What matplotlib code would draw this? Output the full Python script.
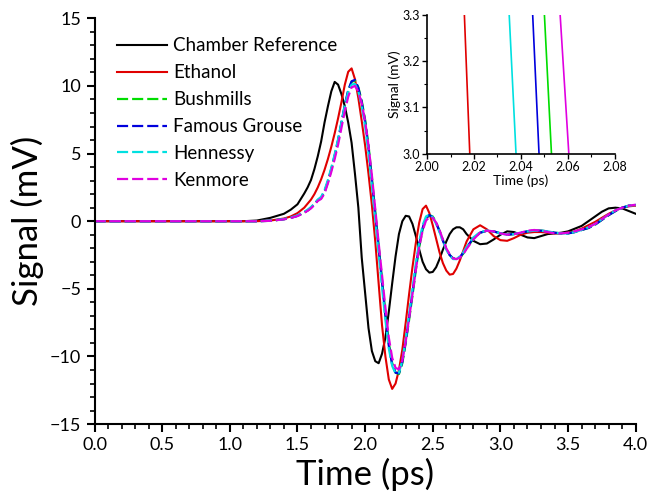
import matplotlib
matplotlib.use("Agg")
import matplotlib.pyplot as plt
import numpy as np

plt.rcParams['font.family'] = ['Lato', 'DejaVu Sans']

# shared time grid (ps)
t = np.round(np.concatenate([np.arange(0.0, 1.45, 0.1),
                             np.arange(1.45, 1.56, 0.05),
                             np.arange(1.575, 2.76, 0.025),
                             np.arange(2.8, 4.01, 0.05)]), 3)

# signals (mV)
chamber = [0.0, 0.0, 0.0, 0.0, 0.0, 0.0, 0.0, 0.0, 0.0, 0.0, 0.0, 0.0, 0.05, 0.25, 0.55,
           0.85, 1.25, 2.05,
           2.5, 3.05, 3.85, 4.8, 5.9, 7.3, 8.5, 9.6, 10.3, 10.1, 9.4, 8.5, 7.3, 5.8,
           3.5, 1.0, -2.7, -5.3, -7.9, -9.6, -10.35, -10.5, -9.8, -8.6, -6.7, -4.6, -2.6,
           -0.95, 0.0, 0.4, 0.35, -0.2, -1.1, -2.1, -3.0, -3.55, -3.8, -3.75, -3.4, -2.8,
           -2.1, -1.5, -0.95, -0.6, -0.45, -0.45, -0.6, -0.95,
           -1.45, -1.7, -1.65, -1.35, -1.0, -0.75, -0.8, -1.0, -1.2, -1.25, -1.1, -0.95,
           -0.9, -0.85, -0.75, -0.55, -0.35, 0.0, 0.35, 0.7, 0.95, 1.0, 0.95, 0.75, 0.55]

ethanol = [0.0, 0.0, 0.0, 0.0, 0.0, 0.0, 0.0, 0.0, 0.0, 0.0, 0.0, 0.0, 0.0, 0.05, 0.2,
           0.35, 0.6, 1.0,
           1.3, 1.6, 2.0, 2.5, 3.1, 3.8, 4.6, 5.5, 6.5, 7.6, 8.8, 10.1, 11.05, 11.3,
           10.5, 9.1, 7.4, 5.6, 3.5, 1.2, -1.5, -4.6, -7.7, -10.0, -11.7, -12.4, -12.0,
           -11.0, -9.5, -7.5, -5.4, -3.4, -1.6, -0.1, 0.9, 1.15, 0.6, -0.3, -1.3, -2.3,
           -3.1, -3.65, -3.95, -3.9, -3.5, -2.9, -2.2, -1.5,
           -0.6, -0.3, -0.6, -1.1, -1.4, -1.45, -1.25, -1.0, -0.85, -0.8, -0.8, -0.85,
           -0.9, -0.9, -0.85, -0.75, -0.55, -0.3, -0.05, 0.25, 0.55, 0.8, 1.0, 1.1, 1.15]

bushmills = [0.0, 0.0, 0.0, 0.0, 0.0, 0.0, 0.0, 0.0, 0.0, 0.0, 0.0, 0.0, 0.0, 0.03, 0.15,
             0.25, 0.4, 0.65,
             0.8, 1.0, 1.25, 1.55, 1.7, 2.15, 2.9, 3.8, 4.8, 5.9, 7.2, 8.5, 9.6, 10.3,
             10.4, 9.9, 8.9, 7.5, 5.6, 3.2, 0.7, -1.8, -4.3, -6.8, -9.0, -10.5, -11.2,
             -11.3, -10.5, -9.0, -7.3, -5.5, -3.6, -1.9, -0.6, 0.2, 0.45, 0.35, -0.1, -0.7,
             -1.4, -2.0, -2.5, -2.75, -2.8, -2.7, -2.4, -2.0,
             -1.3, -0.85, -0.7, -0.75, -0.9, -1.0, -0.95, -0.85, -0.75, -0.7, -0.7, -0.75,
             -0.85, -0.9, -0.9, -0.8, -0.65, -0.5, -0.25, 0.1, 0.45, 0.75, 1.0, 1.15, 1.2]

famous_grouse = [0.0, 0.0, 0.0, 0.0, 0.0, 0.0, 0.0, 0.0, 0.0, 0.0, 0.0, 0.0, 0.0, 0.03, 0.15,
                 0.25, 0.4, 0.65,
                 0.8, 1.0, 1.25, 1.55, 1.75, 2.2, 2.95, 3.85, 4.85, 6.0, 7.3, 8.6, 9.7, 10.35,
                 10.45, 9.85, 8.8, 7.35, 5.4, 3.0, 0.5, -2.0, -4.5, -7.0, -9.2, -10.6, -11.2,
                 -11.25, -10.4, -8.9, -7.1, -5.3, -3.4, -1.7, -0.5, 0.25, 0.45, 0.3, -0.15, -0.75,
                 -1.45, -2.05, -2.5, -2.75, -2.8, -2.65, -2.35, -1.95,
                 -1.25, -0.85, -0.7, -0.75, -0.9, -1.0, -0.95, -0.85, -0.75, -0.7, -0.7, -0.75,
                 -0.85, -0.9, -0.9, -0.8, -0.65, -0.5, -0.25, 0.1, 0.45, 0.75, 1.0, 1.15, 1.2]

hennessy = [0.0, 0.0, 0.0, 0.0, 0.0, 0.0, 0.0, 0.0, 0.0, 0.0, 0.0, 0.0, 0.0, 0.04, 0.16,
            0.27, 0.43, 0.7,
            0.85, 1.05, 1.3, 1.6, 1.8, 2.3, 3.05, 3.95, 4.95, 6.05, 7.3, 8.55, 9.55, 10.1,
            10.15, 9.6, 8.5, 7.0, 5.0, 2.6, 0.1, -2.4, -4.9, -7.3, -9.4, -10.7, -11.25,
            -11.2, -10.3, -8.7, -6.9, -5.0, -3.1, -1.5, -0.3, 0.35, 0.5, 0.3, -0.2, -0.8,
            -1.5, -2.1, -2.55, -2.8, -2.8, -2.6, -2.3, -1.9,
            -1.2, -0.8, -0.7, -0.75, -0.9, -1.0, -0.95, -0.85, -0.75, -0.7, -0.7, -0.75,
            -0.85, -0.9, -0.9, -0.8, -0.65, -0.45, -0.2, 0.15, 0.5, 0.8, 1.0, 1.15, 1.2]

kenmore = [0.0, 0.0, 0.0, 0.0, 0.0, 0.0, 0.0, 0.0, 0.0, 0.0, 0.0, 0.0, 0.0, 0.03, 0.14,
           0.24, 0.38, 0.62,
           0.77, 0.95, 1.2, 1.5, 1.65, 2.05, 2.8, 3.65, 4.6, 5.65, 6.9, 8.15, 9.2, 9.9,
           10.0, 9.6, 8.7, 7.4, 5.6, 3.4, 0.9, -1.6, -4.0, -6.4, -8.6, -10.1, -10.85,
           -10.95, -10.3, -8.9, -7.2, -5.4, -3.6, -1.9, -0.7, 0.05, 0.3, 0.25, -0.1, -0.65,
           -1.35, -2.0, -2.45, -2.75, -2.8, -2.7, -2.45, -2.05,
           -1.35, -0.85, -0.7, -0.75, -0.9, -1.0, -0.95, -0.85, -0.7, -0.65, -0.7, -0.8,
           -0.9, -0.9, -0.85, -0.75, -0.6, -0.45, -0.2, 0.15, 0.5, 0.8, 1.0, 1.15, 1.22]

# inset: crossings of the 3.0-3.3 mV band
inset_v = [3.3, 3.0]
inset_t = {
    'Ethanol': [2.0159, 2.0182],
    'Hennessy': [2.0350, 2.0379],
    'Famous Grouse': [2.0450, 2.0477],
    'Bushmills': [2.0500, 2.0530],
    'Kenmore': [2.0567, 2.0604],
}

series = [
    ('Chamber Reference', chamber, '#000000', '-'),
    ('Ethanol', ethanol, '#e00000', '-'),
    ('Bushmills', bushmills, '#00dd00', '--'),
    ('Famous Grouse', famous_grouse, '#0000dd', '--'),
    ('Hennessy', hennessy, '#00e0e0', '--'),
    ('Kenmore', kenmore, '#e000e0', '--'),
]

fig = plt.figure(figsize=(6.52, 4.96), dpi=100)
ax = fig.add_axes([0.145, 0.145, 0.83, 0.818])

for name, vals, col, ls in series:
    if ls == '--':
        ax.plot(t, vals, color=col, lw=1.6, ls=(0, (5, 1.8)), label=name)
    else:
        ax.plot(t, vals, color=col, lw=1.5, label=name)

ax.set_xlim(0, 4)
ax.set_ylim(-15, 15)
ax.set_xticks(np.arange(0, 4.01, 0.5))
ax.set_xticks(np.arange(0, 4.01, 0.1), minor=True)
ax.set_yticks(np.arange(-15, 16, 5))
ax.set_yticks(np.arange(-15, 16, 1), minor=True)
ax.xaxis.set_major_formatter(matplotlib.ticker.FormatStrFormatter('%.1f'))
for s in ['top', 'right']:
    ax.spines[s].set_visible(False)
for s in ['left', 'bottom']:
    ax.spines[s].set_linewidth(1.5)
ax.tick_params(which='major', direction='out', length=6, width=1.5, labelsize=13)
ax.tick_params(which='minor', direction='out', length=3.5, width=1.2)
ax.set_xlabel('Time (ps)', fontsize=25, labelpad=3)
ax.set_ylabel('Signal (mV)', fontsize=25, labelpad=4)

leg = ax.legend(loc='upper left', bbox_to_anchor=(0.01, 0.995), frameon=False, fontsize=13.5,
                handlelength=2.67, handletextpad=0.32, labelspacing=0.53)

# inset
axin = fig.add_axes([0.655, 0.69, 0.288, 0.28])
inset_cols = {n: c for n, _, c, _ in series}
for name, ts in inset_t.items():
    axin.plot(ts, inset_v, color=inset_cols[name], lw=1.2)
axin.set_xlim(2.0, 2.08)
axin.set_ylim(3.0, 3.3)
axin.set_xticks(np.arange(2.0, 2.081, 0.02))
axin.set_xticks(np.arange(2.0, 2.081, 0.01), minor=True)
axin.set_yticks([3.0, 3.1, 3.2, 3.3])
axin.set_yticks(np.arange(3.0, 3.31, 0.05), minor=True)
axin.xaxis.set_major_formatter(matplotlib.ticker.FormatStrFormatter('%.2f'))
axin.yaxis.set_major_formatter(matplotlib.ticker.FormatStrFormatter('%.1f'))
for s in ['top', 'right']:
    axin.spines[s].set_visible(False)
for s in ['left', 'bottom']:
    axin.spines[s].set_linewidth(1.2)
axin.tick_params(which='major', direction='out', length=3.5, width=1.0, labelsize=9, pad=1.5)
axin.tick_params(which='minor', direction='out', length=2, width=0.8)
axin.set_xlabel('Time (ps)', fontsize=10, labelpad=1)
axin.set_ylabel('Signal (mV)', fontsize=10, labelpad=1)

fig.savefig('out.png', dpi=100)
